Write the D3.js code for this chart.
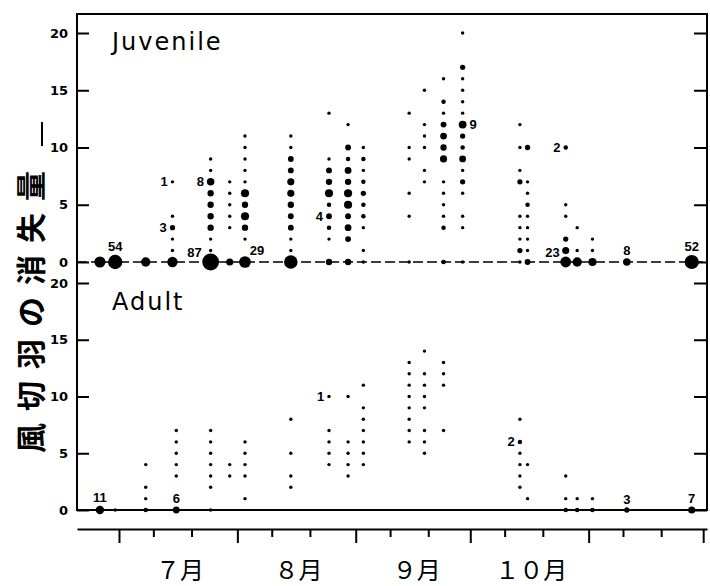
<!DOCTYPE html>
<html>
<head>
<meta charset="utf-8">
<script src="https://cdn.jsdelivr.net/npm/d3@7"></script>
<style>
body { margin: 0; background: #fff; }
</style>
</head>
<body>
<div id="chart"></div>
<script>
// each sampling date: [value, number of birds]
const juvenile = [
    ["06-26", [[0, 25]]],
    ["06-30", [[0, 54]]],
    ["07-08", [[0, 15]]],
    ["07-15", [[0, 20], [1, 1], [2, 1], [3, 3], [4, 1], [7, 1]]],
    ["07-25", [[0, 87], [1, 1], [2, 1], [3, 5], [4, 5], [5, 5], [6, 5], [7, 8], [8, 1], [9, 1]]],
    ["07-30", [[0, 7], [3, 1], [4, 1], [5, 1], [6, 1], [7, 1]]],
    ["08-03", [[0, 29], [2, 1], [3, 5], [4, 10], [5, 5], [6, 10], [7, 1], [8, 1], [9, 1], [10, 1], [11, 1]]],
    ["08-15", [[0, 45], [1, 1], [2, 1], [3, 4], [4, 4], [5, 5], [6, 7], [7, 7], [8, 4], [9, 4], [10, 1], [11, 1]]],
    ["08-25", [[0, 5], [2, 1], [3, 2], [4, 4], [5, 2], [6, 10], [7, 5], [8, 4], [9, 1], [13, 1]]],
    ["08-30", [[0, 5], [2, 4], [3, 6], [4, 4], [5, 10], [6, 10], [7, 5], [8, 6], [9, 2], [10, 4], [12, 1]]],
    ["09-03", [[0, 1], [1, 1], [3, 1], [4, 2], [5, 2], [6, 3], [7, 2], [8, 1], [9, 2], [10, 1]]],
    ["09-15", [[0, 1], [4, 1], [6, 1], [9, 1], [10, 1], [13, 1]]],
    ["09-19", [[7, 1], [8, 1], [10, 1], [11, 1], [12, 1], [15, 1]]],
    ["09-24", [[0, 2], [3, 2], [4, 1], [5, 1], [6, 1], [7, 1], [9, 7], [10, 5], [11, 6], [12, 4], [13, 1], [14, 2], [16, 1]]],
    ["09-29", [[0, 1], [3, 1], [4, 1], [6, 1], [7, 3], [8, 1], [9, 6], [10, 2], [11, 3], [12, 9], [13, 1], [14, 1], [15, 1], [16, 1], [17, 3], [20, 1]]],
    ["10-14", [[0, 1], [1, 3], [2, 1], [3, 1], [4, 1], [7, 3], [8, 1], [10, 1], [12, 1]]],
    ["10-16", [[0, 4], [1, 1], [2, 1], [3, 1], [4, 1], [5, 2], [6, 1], [7, 1], [10, 3]]],
    ["10-26", [[0, 23], [1, 7], [2, 3], [4, 1], [5, 1], [10, 2]]],
    ["10-29", [[0, 15], [1, 1], [3, 1]]],
    ["11-02", [[0, 10], [1, 1], [2, 1]]],
    ["11-11", [[0, 8]]],
    ["11-28", [[0, 52]]]
];

const adult = [
    ["06-26", [[0, 11]]],
    ["06-30", [[0, 1]]],
    ["07-08", [[0, 2], [1, 1], [2, 1], [4, 1]]],
    ["07-16", [[0, 6], [3, 1], [4, 1], [5, 1], [6, 1], [7, 1]]],
    ["07-25", [[0, 1], [2, 1], [3, 1], [4, 1], [5, 1], [6, 1], [7, 1]]],
    ["07-30", [[3, 1], [4, 1]]],
    ["08-03", [[1, 1], [3, 1], [4, 1], [5, 1], [6, 1]]],
    ["08-15", [[2, 1], [3, 1], [5, 1], [8, 1]]],
    ["08-25", [[4, 1], [5, 1], [6, 1], [7, 1], [10, 1]]],
    ["08-30", [[3, 1], [4, 1], [5, 1], [6, 1], [10, 1]]],
    ["09-03", [[4, 1], [5, 1], [6, 1], [7, 1], [8, 1], [9, 1], [11, 1]]],
    ["09-15", [[6, 1], [7, 1], [8, 1], [9, 1], [10, 1], [11, 1], [12, 1], [13, 1]]],
    ["09-19", [[5, 1], [6, 1], [7, 1], [9, 1], [10, 1], [11, 1], [12, 1], [14, 1]]],
    ["09-24", [[7, 1], [11, 1], [12, 1], [13, 1]]],
    ["10-14", [[2, 1], [3, 1], [4, 1], [5, 1], [6, 2], [8, 1]]],
    ["10-16", [[1, 1], [4, 1]]],
    ["10-26", [[0, 2], [1, 1], [3, 1]]],
    ["10-29", [[0, 2], [1, 1]]],
    ["11-02", [[0, 2], [1, 1]]],
    ["11-11", [[0, 3]]],
    ["11-28", [[0, 7]]]
];

// count labels written beside some dots: [date, value, text, side]
const juvenileNotes = [
    ["06-30", 0, "54", "above"],
    ["07-15", 3, "3", "left"],
    ["07-15", 7, "1", "left"],
    ["07-25", 0, "87", "upleft"],
    ["07-25", 7, "8", "left"],
    ["08-03", 0, "29", "upright"],
    ["08-25", 4, "4", "left"],
    ["09-29", 12, "9", "right"],
    ["10-26", 10, "2", "left"],
    ["10-26", 0, "23", "upleft"],
    ["11-11", 0, "8", "above"],
    ["11-28", 0, "52", "above"]
];

const adultNotes = [
    ["06-26", 0, "11", "above"],
    ["07-16", 0, "6", "above"],
    ["08-25", 10, "1", "left"],
    ["10-14", 6, "2", "left"],
    ["11-11", 0, "3", "above"],
    ["11-28", 0, "7", "above"]
];

const yTicks = [0, 5, 10, 15, 20];
const xTicks = ["07-01", "07-10", "07-20", "08-01", "08-10", "08-20", "09-01", "09-10", "09-20",
    "10-01", "10-10", "10-20", "11-01", "11-10", "11-20", "12-01"];
const monthLabels = [["07-17", "７月"], ["08-17", "８月"], ["09-17", "９月"], ["10-17", "１０月"]];

const width = 710, height = 586;
const frame = { left: 77, right: 707, top: 14, bottom: 510 };
const parse = d3.timeParse("%m-%d");

const svg = d3.select("#chart").append("svg")
    .attr("width", width)
    .attr("height", height)
    .style("background", "#fff");

const x = d3.scaleTime()
    .domain([parse("06-20"), parse("12-02")])
    .range([frame.left, frame.right]);

const yJuv = d3.scaleLinear().domain([0, 20]).range([262, 33]);
const yAd = d3.scaleLinear().domain([0, 20]).range([frame.bottom, 283]);

const r = d3.scalePow().exponent(0.3).domain([1, 87]).range([1.7, 8.4]);

// frame
svg.append("rect")
    .attr("x", frame.left).attr("y", frame.top)
    .attr("width", frame.right - frame.left).attr("height", frame.bottom - frame.top)
    .attr("fill", "none").attr("stroke", "#000").attr("stroke-width", 2);

// juvenile zero line
svg.append("line")
    .attr("x1", frame.left).attr("x2", frame.right)
    .attr("y1", yJuv(0)).attr("y2", yJuv(0))
    .attr("stroke", "#000").attr("stroke-width", 1.6)
    .attr("stroke-dasharray", "10,4");

function yAxes(y) {
    const gl = svg.append("g")
        .attr("transform", `translate(${frame.left},0)`)
        .call(d3.axisLeft(y).tickValues(yTicks).tickSizeInner(-12).tickSizeOuter(0).tickPadding(9));
    gl.select(".domain").remove();
    gl.selectAll(".tick line").attr("stroke-width", 2);
    gl.selectAll(".tick text")
        .attr("font-family", "DejaVu Sans")
        .attr("font-weight", "bold")
        .attr("font-size", 13);

    const gr = svg.append("g")
        .attr("transform", `translate(${frame.right},0)`)
        .call(d3.axisRight(y).tickValues(yTicks).tickSize(-13).tickFormat(""));
    gr.select(".domain").remove();
    gr.selectAll(".tick line").attr("stroke-width", 2);
}
yAxes(yJuv);
yAxes(yAd);

function drawPanel(rows, notes, y, title, titleY) {
    const pts = rows.flatMap(([d, list]) => list.map(([v, n]) => ({ date: parse(d), v, n })));

    svg.append("g")
        .selectAll("circle")
        .data(pts)
        .join("circle")
        .attr("cx", d => x(d.date))
        .attr("cy", d => y(d.v))
        .attr("r", d => r(d.n))
        .attr("fill", "#000");

    const find = (d, v) => pts.find(p => +p.date === +parse(d) && p.v === v);

    svg.append("g")
        .selectAll("text")
        .data(notes)
        .join("text")
        .attr("font-family", "Liberation Sans")
        .attr("font-weight", "bold")
        .attr("font-size", 13)
        .attr("text-anchor", d => d[3] === "above" ? "middle" : (d[3] === "right" || d[3] === "upright") ? "start" : "end")
        .attr("x", d => {
            const p = find(d[0], d[1]), cx = x(p.date), rr = r(p.n);
            if (d[3] === "above") return cx;
            if (d[3] === "left") return cx - rr - 3;
            if (d[3] === "right") return cx + rr + 3;
            if (d[3] === "upleft") return cx - rr - 0.5;
            return cx + rr - 1;
        })
        .attr("y", d => {
            const p = find(d[0], d[1]), cy = y(p.v), rr = r(p.n);
            if (d[3] === "above") return cy - rr - 3.5;
            if (d[3] === "upleft") return cy - 5;
            if (d[3] === "upright") return cy - 7;
            return cy + 4.5;
        })
        .text(d => d[2]);

    svg.append("text")
        .attr("x", 112).attr("y", titleY)
        .attr("font-family", "DejaVu Sans")
        .attr("font-size", 24)
        .attr("letter-spacing", 2)
        .text(title);
}
drawPanel(juvenile, juvenileNotes, yJuv, "Juvenile", 50);
drawPanel(adult, adultNotes, yAd, "Adult", 310);

// time axis under the frame
const gx = svg.append("g")
    .attr("transform", "translate(0,529)")
    .call(d3.axisBottom(x).tickValues(xTicks.map(parse)).tickSizeOuter(0).tickFormat(""));
gx.select(".domain").attr("stroke-width", 2);
gx.selectAll(".tick line")
    .attr("stroke-width", 2)
    .attr("y2", d => d.getDate() === 1 ? 14 : 8);

svg.append("g")
    .selectAll("text")
    .data(monthLabels)
    .join("text")
    .attr("x", d => x(parse(d[0])))
    .attr("y", 579)
    .attr("text-anchor", "middle")
    .attr("font-family", "Noto Sans CJK JP")
    .attr("font-size", 24)
    .text(d => d[1]);

// y title
svg.append("text")
    .attr("transform", "translate(42,306) rotate(-90)")
    .attr("text-anchor", "middle")
    .attr("font-family", "Noto Sans CJK JP")
    .attr("font-weight", "bold")
    .attr("font-size", 30)
    .attr("letter-spacing", 12)
    .text("風切羽の消失量");
svg.append("line")
    .attr("x1", 42).attr("x2", 42)
    .attr("y1", 122).attr("y2", 146)
    .attr("stroke", "#000").attr("stroke-width", 2);
</script>
</body>
</html>
